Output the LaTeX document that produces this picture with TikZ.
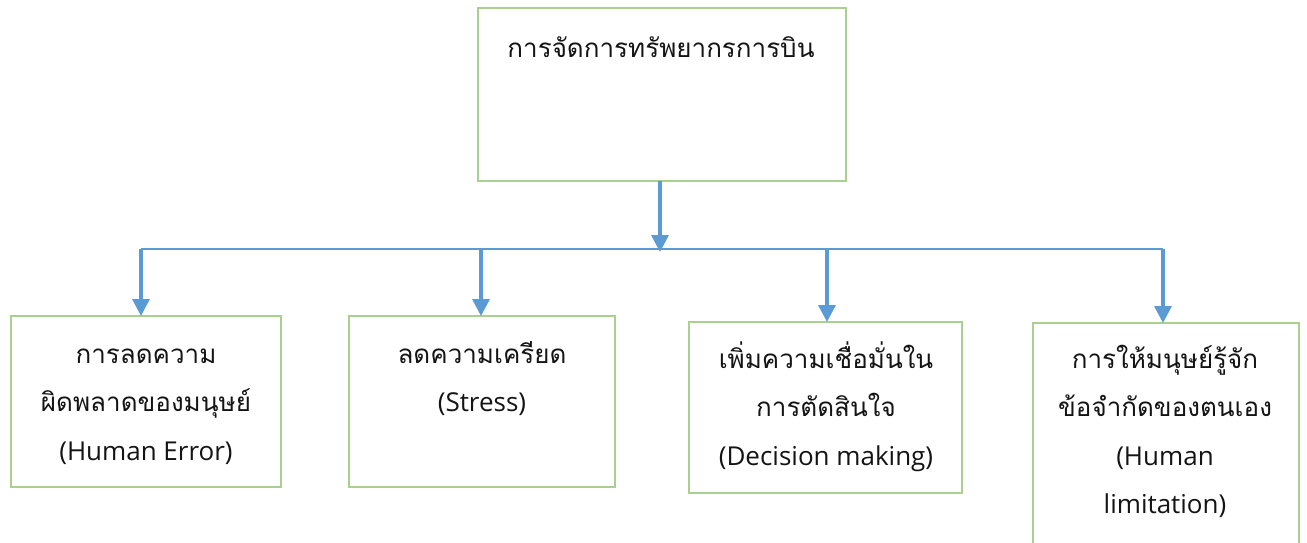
\documentclass[tikz,border=0pt]{standalone}
\usepackage{fontspec}
\setmainfont{Open Sans}
\newfontfamily\thaifont[Script=Thai]{Loma}
\usetikzlibrary{arrows.meta}
\definecolor{boxgreen}{HTML}{A9D08E}
\definecolor{arrowblue}{HTML}{5B9BD5}
\begin{document}
\begin{tikzpicture}[x=1pt,y=-1pt,
  box/.style={draw=boxgreen, line width=1.4pt, inner sep=0pt, outer sep=0pt, anchor=north west},
  lbl/.style={align=center, inner sep=0pt, anchor=north, text=black!92,
    font=\fontsize{26}{48.5}\selectfont},
  conn/.style={draw=arrowblue, line width=3.4pt, -{Triangle[width=17pt,length=17pt]}},
  bar/.style={draw=arrowblue, line width=1.8pt}]
\useasboundingbox (0,0) rectangle (1307,542);
\clip (0,0) rectangle (1307,542);
% boxes
\node[box, minimum width=368pt, minimum height=173pt] (top) at (478,8) {};
\node[box, minimum width=270pt, minimum height=171pt] (b1) at (11,316) {};
\node[box, minimum width=266pt, minimum height=171pt] (b2) at (349,316) {};
\node[box, minimum width=273pt, minimum height=171pt] (b3) at (689,322) {};
\node[box, minimum width=266pt, minimum height=240pt] (b4) at (1033,323) {};
% texts
\node[lbl] (ttop) at (661,57-33.95) {\strut\thaifont การจัดการทรัพยากรการบิน};
\node[lbl] (t1) at (146,363-33.95) {\strut\thaifont การลดความ\\ \thaifont ผิดพลาดของมนุษย์\\ (Human Error)};
\node[lbl] (t2) at (482,363-33.95) {\strut\thaifont ลดความเครียด\\ (Stress)};
\node[lbl] (t3) at (826,368-33.95) {\strut\thaifont เพิ่มความเชื่อมั่นใน\\ \thaifont การตัดสินใจ\\ (Decision making)};
\node[lbl] (t4) at (1165,368-33.95) {\strut\thaifont การให้มนุษย์รู้จัก\\ \thaifont ข้อจำกัดของตนเอง\\ (Human\\ limitation)};
% connectors
\coordinate (hub) at (660,252);
\coordinate (j1) at (141,249);
\coordinate (j2) at (481,249);
\coordinate (j3) at (827,249);
\coordinate (j4) at (1163,249);
\draw[bar] (j1) -- (j4);
\draw[conn] (top.south -| hub) -- (hub);
\draw[conn] (j1) -- (j1 |- b1.north);
\draw[conn] (j2) -- (j2 |- b2.north);
\draw[conn] (j3) -- (j3 |- b3.north);
\draw[conn] (j4) -- (j4 |- b4.north);
\end{tikzpicture}
\end{document}
